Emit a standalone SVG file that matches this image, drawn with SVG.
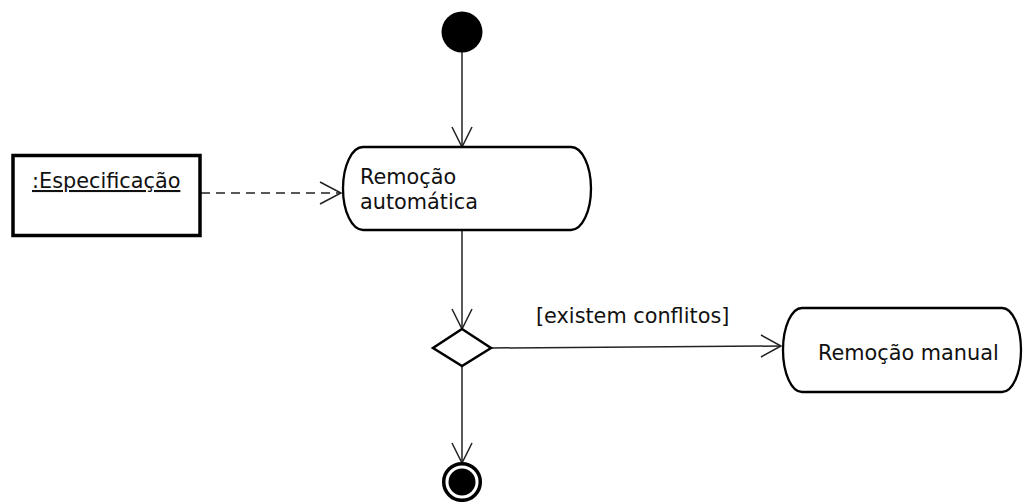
<svg xmlns="http://www.w3.org/2000/svg" width="1024" height="502" viewBox="0 0 1024 502">
  <style>
    .label { font-family: "DejaVu Sans", "Liberation Sans", sans-serif; font-size: 20.8px; fill: #111; }
    .action { fill: #fff; stroke: #000; stroke-width: 2.3; }
    .flow { fill: none; stroke: #222; stroke-width: 1.5; }
    .head { fill: none; stroke: #222; stroke-width: 1.5; }
  </style>
  <rect width="1024" height="502" fill="#fff"/>

  <!-- connectors -->
  <g id="connectors">
    <!-- start -> Remoção automática -->
    <line class="flow" x1="462" y1="52" x2="462" y2="147"/>
    <polyline class="head" points="452,127 462,147 472,127"/>
    <!-- object flow :Especificação -> Remoção automática -->
    <line class="flow" x1="201" y1="193" x2="340" y2="193" stroke-dasharray="9,6"/>
    <polyline class="head" points="320,182 341,193 320,204"/>
    <!-- Remoção automática -> decision -->
    <line class="flow" x1="462" y1="230" x2="462" y2="329"/>
    <polyline class="head" points="452,309 462,329 472,309"/>
    <!-- decision -> Remoção manual -->
    <line class="flow" x1="491" y1="348" x2="781" y2="346"/>
    <polyline class="head" points="761,335 781,346 761,357"/>
    <text class="label" x="536" y="323">[existem conflitos]</text>
    <!-- decision -> final -->
    <line class="flow" x1="462" y1="366" x2="462" y2="463"/>
    <polyline class="head" points="452,443 462,463 472,443"/>
  </g>

  <!-- initial node -->
  <g id="initial">
    <circle cx="462" cy="32" r="20.5" fill="#000"/>
  </g>

  <!-- object node -->
  <g id="especificacao">
    <rect x="13" y="155.5" width="187" height="80" fill="#fff" stroke="#000" stroke-width="3.5"/>
    <text class="label" x="32" y="188" text-decoration="underline">:Especificação</text>
  </g>

  <!-- action: Remoção automática -->
  <g id="remocao-automatica">
    <path class="action" d="M363,147 H571 A20,41.5 0 0 1 571,230 H363 A20,41.5 0 0 1 363,147 Z"/>
    <text class="label" x="360" y="184">Remoção</text>
    <text class="label" x="360" y="209">automática</text>
  </g>

  <!-- decision node -->
  <g id="decisao">
    <polygon points="462,329 491,348 462,366 433,348" fill="#fff" stroke="#000" stroke-width="2.5"/>
  </g>

  <!-- action: Remoção manual -->
  <g id="remocao-manual">
    <path class="action" d="M802,308 H1002 A19,42 0 0 1 1002,392 H802 A19,42 0 0 1 802,308 Z"/>
    <text class="label" x="818" y="360">Remoção manual</text>
  </g>

  <!-- final node -->
  <g id="final">
    <circle cx="462" cy="482" r="18.3" fill="#fff" stroke="#000" stroke-width="3.5"/>
    <circle cx="462" cy="482" r="13.5" fill="#000"/>
  </g>
</svg>
